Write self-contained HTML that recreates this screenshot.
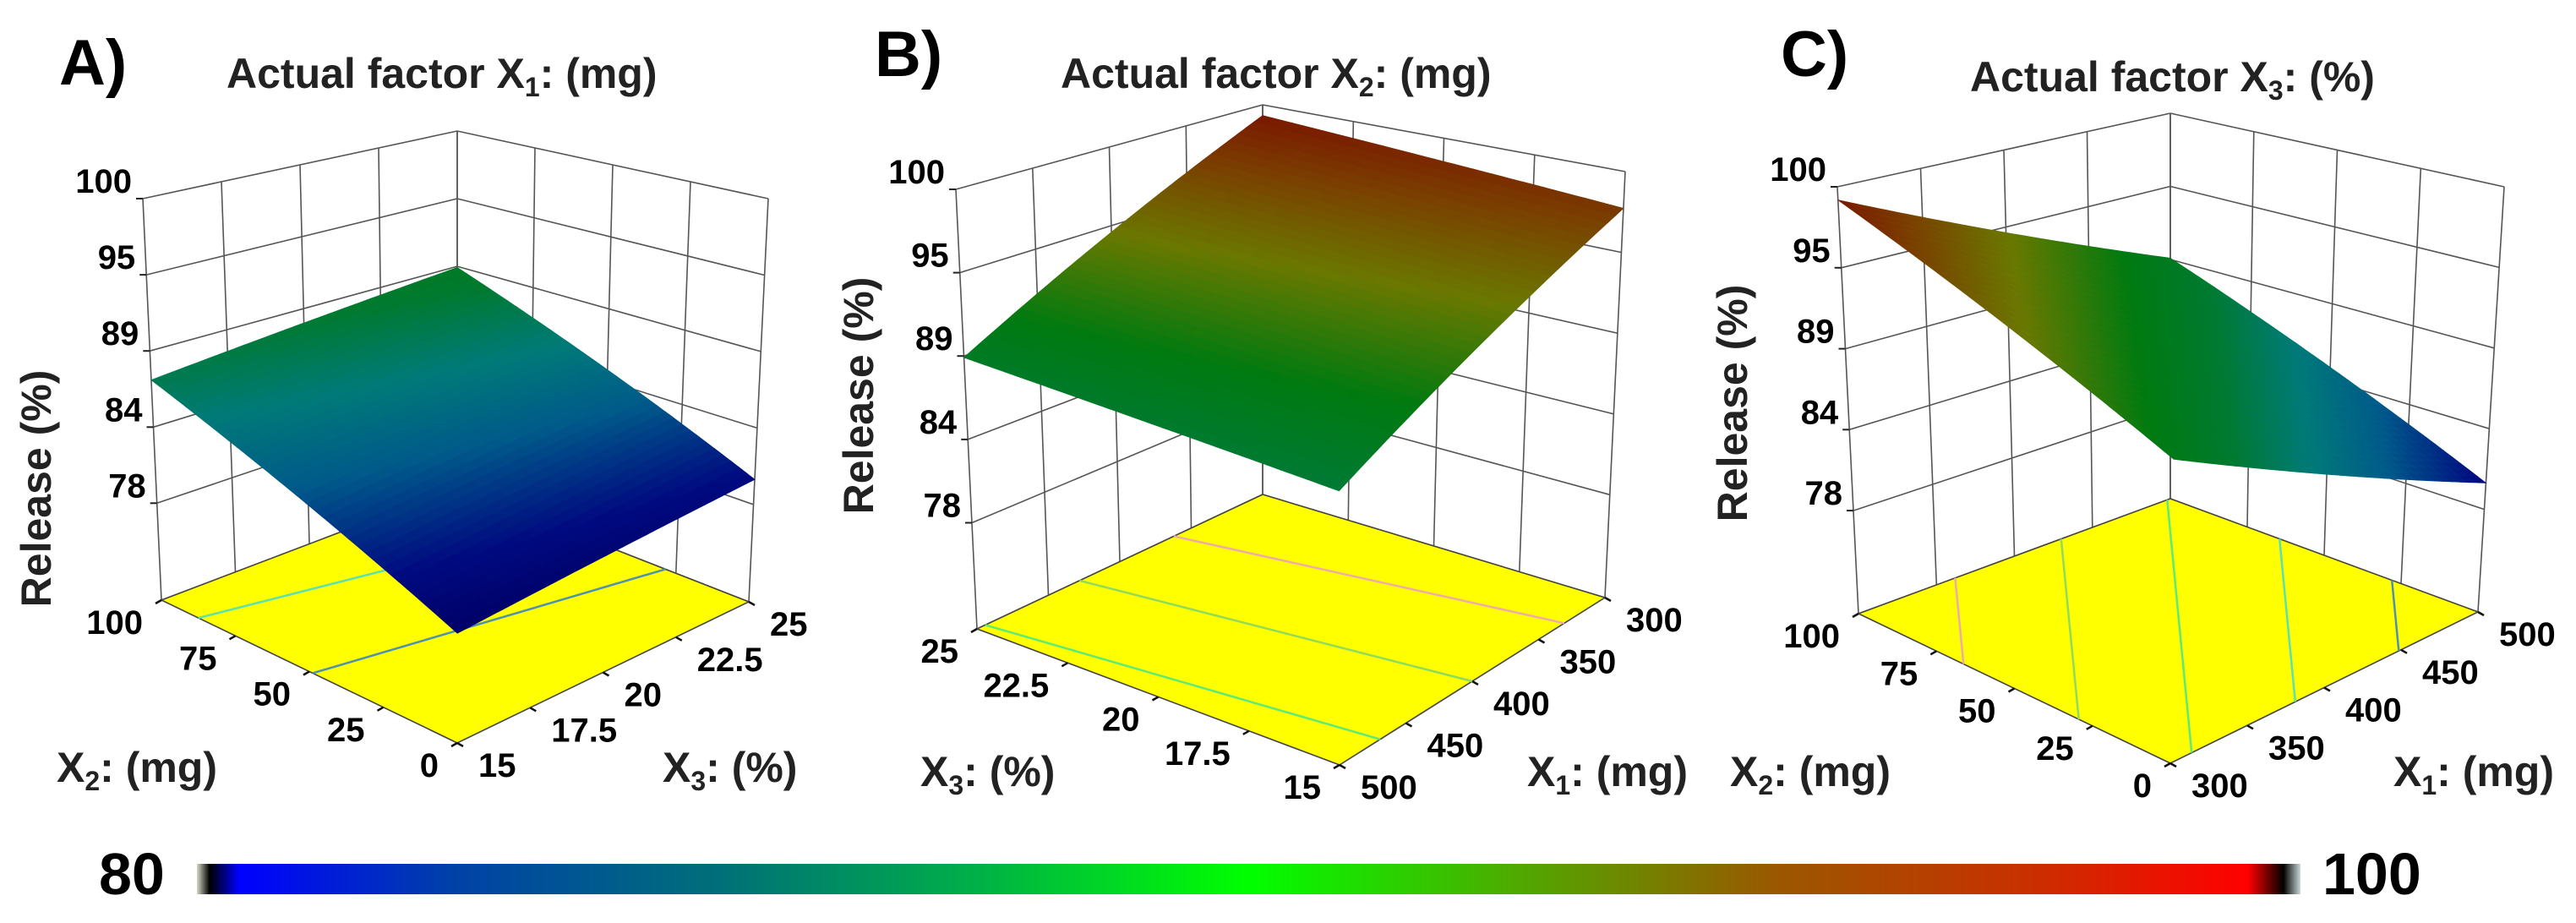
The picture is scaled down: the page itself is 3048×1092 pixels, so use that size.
<!DOCTYPE html>
<html><head><meta charset="utf-8"><style>
html,body{margin:0;padding:0;background:#fff;}
svg{display:block;font-family:"Liberation Sans",Arial,sans-serif;}
</style></head><body>
<svg id="chart" width="3048" height="1092" viewBox="0 0 3048 1092" xmlns="http://www.w3.org/2000/svg">
<defs>
<linearGradient id="cbar" x1="0" x2="1" y1="0" y2="0">
<stop offset="0" stop-color="#d8d8c8"/><stop offset="0.006" stop-color="#000"/>
<stop offset="0.02" stop-color="#0000ff"/><stop offset="0.12" stop-color="#0040a8"/>
<stop offset="0.25" stop-color="#007078"/><stop offset="0.37" stop-color="#00b048"/>
<stop offset="0.5" stop-color="#00ff00"/><stop offset="0.63" stop-color="#50a800"/>
<stop offset="0.75" stop-color="#9a5800"/><stop offset="0.87" stop-color="#c83000"/>
<stop offset="0.975" stop-color="#ff0000"/><stop offset="0.992" stop-color="#000"/>
<stop offset="1" stop-color="#c8d8d8"/>
</linearGradient>
</defs>
<g id="layer"></g>
<rect x="233" y="1022" width="2489" height="36" fill="url(#cbar)"/>
<text x="117" y="1058" font-size="70" font-weight="bold">80</text>
<text x="2748" y="1058" font-size="70" font-weight="bold">100</text>
</svg>
<script>
// ---- data ----
const zTicks = [100, 94.5, 89, 83.5, 78];
const zTickLabels = ["100", "95", "89", "84", "78"];
const contourLevels = [82.4, 85.8, 89.2, 92.6, 96.0];
// corner responses: [front, left, right, back]
const aCornerZ = [78.1, 86.9, 79.8, 88.9];
const bCornerZ = [87.7, 88.9, 97.5, 99.2];
const cCornerZ = [89.9, 99.1, 79.8, 89.1];
const aLeftTicks = ["0", "25", "50", "75", "100"];
const aRightTicks = ["15", "17.5", "20", "22.5", "25"];
const bLeftTicks = ["15", "17.5", "20", "22.5", "25"];
const bRightTicks = ["500", "450", "400", "350", "300"];
const cLeftTicks = ["0", "25", "50", "75", "100"];
const cRightTicks = ["300", "350", "400", "450", "500"];

const Z_MIN = 71, Z_MAX = 100;
const NS = "http://www.w3.org/2000/svg";
const layer = document.getElementById('layer');

function mk(tag, attrs, parent) {
  const e = document.createElementNS(NS, tag);
  for (const k in attrs) e.setAttribute(k, attrs[k]);
  (parent || layer).appendChild(e);
  return e;
}

const darkStops = [[78,[0,0,102]],[80,[0,10,128]],[83,[0,90,138]],[85.5,[0,122,120]],[88,[0,122,48]],[90.5,[0,122,16]],[94,[106,120,0]],[97,[122,64,0]],[100,[122,10,0]]];
const lightStops = [[80,[110,130,200]],[83,[70,150,170]],[85.5,[90,225,180]],[89,[90,235,120]],[92.5,[140,220,90]],[96,[240,170,170]],[100,[255,150,150]]];
function cmap(stops, z) {
  if (z <= stops[0][0]) return 'rgb(' + stops[0][1].join(',') + ')';
  for (let i = 1; i < stops.length; i++) {
    if (z <= stops[i][0]) {
      const t = (z - stops[i-1][0]) / (stops[i][0] - stops[i-1][0]);
      const a = stops[i-1][1], b = stops[i][1];
      return 'rgb(' + a.map((v, k) => Math.round(v + (b[k]-v)*t)).join(',') + ')';
    }
  }
  return 'rgb(' + stops[stops.length-1][1].join(',') + ')';
}

function drawPanel(p) {
  const g = mk('g', {});
  
  
  const F = p.F, L = p.L, R = p.R, B = p.B;
  const hL = L[1]-p.tL[1], hR = R[1]-p.tR[1], hB = B[1]-p.tB[1];
  const hF = hL + hR - hB;
  const dL = p.tL[0]-L[0], dR = p.tR[0]-R[0], dB = p.tB[0]-B[0];
  const dF = dL + dR - dB;
  function bil(a, l, r, b, u, v) { return a*(1-u)*(1-v) + l*u*(1-v) + r*(1-u)*v + b*u*v; }
  function zf(z) { return (z - Z_MIN) / (Z_MAX - Z_MIN); }
  function P(u, v, z) {
    const f = zf(z);
    const x = bil(F[0], L[0], R[0], B[0], u, v) + f*bil(dF, dL, dR, dB, u, v);
    const y = bil(F[1], L[1], R[1], B[1], u, v) - f*bil(hF, hL, hR, hB, u, v);
    return [x, y];
  }
  const cz = p.cornerZ;
  function Zs(u, v) { return bil(cz[0], cz[1], cz[2], cz[3], u, v); }
  const line = (a, b, name, stroke, w) => {
    const l = mk('line', {x1:a[0].toFixed(1), y1:a[1].toFixed(1), x2:b[0].toFixed(1), y2:b[1].toFixed(1), stroke:stroke||'#555', 'stroke-width':w||1.6}, g);
    
    
  };
  const zLevels = zTicks.concat([Z_MIN]);
  for (let i = 0; i <= 4; i++) {
    const t = i/4;
    line(P(1, t, Z_MIN), P(1, t, Z_MAX), 'left-wall-gridline');
    line(P(t, 1, Z_MIN), P(t, 1, Z_MAX), 'right-wall-gridline');
  }
  zLevels.forEach(z => {
    line(P(1, 0, z), P(1, 1, z), 'left-wall-hline');
    line(P(1, 1, z), P(0, 1, z), 'right-wall-hline');
  });
  zTicks.forEach((z, i) => {
    const q = P(1, 0, z);
    line([q[0]-8, q[1]], q, 'z-tick', '#222', 2);
    const t = mk('text', {x:(q[0]-13).toFixed(1), y:(q[1]-7).toFixed(1), 'font-size':40, 'font-weight':'bold', 'text-anchor':'end'}, g);
    
    
    t.textContent = zTickLabels[i];
  });
  const fl = [P(0,0,Z_MIN), P(1,0,Z_MIN), P(1,1,Z_MIN), P(0,1,Z_MIN)];
  const floor = mk('polygon', {points: fl.map(q => q.map(v => v.toFixed(1)).join(',')).join(' '), fill:'#ffff00', stroke:'#444', 'stroke-width':1.6}, g);
  
  
  contourLevels.forEach(lv => {
    const pts = [];
    const edges = [[[0,0],[1,0]],[[1,0],[1,1]],[[1,1],[0,1]],[[0,1],[0,0]]];
    edges.forEach(e => {
      const za = Zs(e[0][0], e[0][1]), zb = Zs(e[1][0], e[1][1]);
      if ((za - lv)*(zb - lv) < 0) {
        const t = (lv - za)/(zb - za);
        pts.push(P(e[0][0] + (e[1][0]-e[0][0])*t, e[0][1] + (e[1][1]-e[0][1])*t, Z_MIN));
      }
    });
    if (pts.length >= 2) line(pts[0], pts[1], 'floor-contour-line', cmap(lightStops, lv), 2.5);
  });
  for (let i = 0; i <= 4; i++) {
    const t = i/4;
    const a = P(t, 0, Z_MIN);
    line(a, [a[0]-7, a[1]+4], 'left-axis-tick', '#111', 2.5);
    const la = mk('text', {x:(a[0]-22).toFixed(1), y:(a[1]+40).toFixed(1), 'font-size':40, 'font-weight':'bold', 'text-anchor':'end'}, g);
    
    
    la.textContent = p.leftTicks[i];
    const b = P(0, t, Z_MIN);
    line(b, [b[0]+7, b[1]+4], 'right-axis-tick', '#111', 2.5);
    const lb = mk('text', {x:(b[0]+25).toFixed(1), y:(b[1]+40).toFixed(1), 'font-size':40, 'font-weight':'bold', 'text-anchor':'start'}, g);
    
    
    lb.textContent = p.rightTicks[i];
  }
  const N = 36;
  const sg = mk('g', {}, g);
  
  
  for (let i = 0; i < N; i++) for (let j = 0; j < N; j++) {
    const u0 = i/N, u1 = (i+1)/N, v0 = j/N, v1 = (j+1)/N;
    const q = [P(u0,v0,Zs(u0,v0)), P(u1,v0,Zs(u1,v0)), P(u1,v1,Zs(u1,v1)), P(u0,v1,Zs(u0,v1))];
    const c = cmap(darkStops, Zs((u0+u1)/2, (v0+v1)/2));
    const poly = mk('polygon', {points: q.map(r => r.map(v => v.toFixed(1)).join(',')).join(' '), fill:c, stroke:c, 'stroke-width':0.8}, sg);
    
    
  }
  const lt = mk('text', {x:p.letter[0], y:p.letter[1], 'font-size':76, 'font-weight':'bold'}, g);
  
  
  lt.textContent = p.letterText;
  const tt = mk('text', {x:p.title[0], y:p.title[1], 'font-size':50, 'font-weight':'bold', fill:'#222'}, g);
  
  
  tt.innerHTML = 'Actual factor X<tspan font-size="32" dy="10">' + p.titleSub + '</tspan><tspan dy="-10">: ' + p.titleUnit + '</tspan>';
  const zt = mk('text', {x:0, y:0, 'font-size':50, 'font-weight':'bold', 'text-anchor':'middle', transform:'translate(' + p.zTitle[0] + ',' + p.zTitle[1] + ') rotate(-90)', fill:'#222'}, g);
  
  
  zt.textContent = 'Release (%)';
  [[p.leftTitle, 'left-axis-title'], [p.rightTitle, 'right-axis-title']].forEach(d => {
    const at = mk('text', {x:d[0][0], y:d[0][1], 'font-size':50, 'font-weight':'bold', fill:'#222'}, g);
    
    
    at.innerHTML = 'X<tspan font-size="32" dy="10">' + d[0][2] + '</tspan><tspan dy="-10">: ' + d[0][3] + '</tspan>';
  });
}

drawPanel({name:'panel-a', F:[541,879], L:[191,710], R:[886,712], B:[541,577], tL:[169,235], tR:[909,235], tB:[541,155],
  cornerZ:aCornerZ, leftTicks:aLeftTicks, rightTicks:aRightTicks,
  letter:[70,100], letterText:'A)', title:[268,104], titleSub:'1', titleUnit:'(mg)', zTitle:[60,578],
  leftTitle:[67,925,'2','(mg)'], rightTitle:[784,925,'3','(%)']});
drawPanel({name:'panel-b', F:[1585,905], L:[1156,744], R:[1899,707], B:[1494,585], tL:[1131,224], tR:[1923,203], tB:[1494,124],
  cornerZ:bCornerZ, leftTicks:bLeftTicks, rightTicks:bRightTicks,
  letter:[1035,90], letterText:'B)', title:[1255,104], titleSub:'2', titleUnit:'(mg)', zTitle:[1033,468],
  leftTitle:[1089,930,'3','(%)'], rightTitle:[1807,930,'1','(mg)']});
drawPanel({name:'panel-c', F:[2568,903], L:[2199,726], R:[2932,724], B:[2568,590], tL:[2174,221], tR:[2963,221], tB:[2568,134],
  cornerZ:cCornerZ, leftTicks:cLeftTicks, rightTicks:cRightTicks,
  letter:[2107,90], letterText:'C)', title:[2331,108], titleSub:'3', titleUnit:'(%)', zTitle:[2067,477],
  leftTitle:[2047,930,'2','(mg)'], rightTitle:[2832,930,'1','(mg)']});
</script>
</body></html>
